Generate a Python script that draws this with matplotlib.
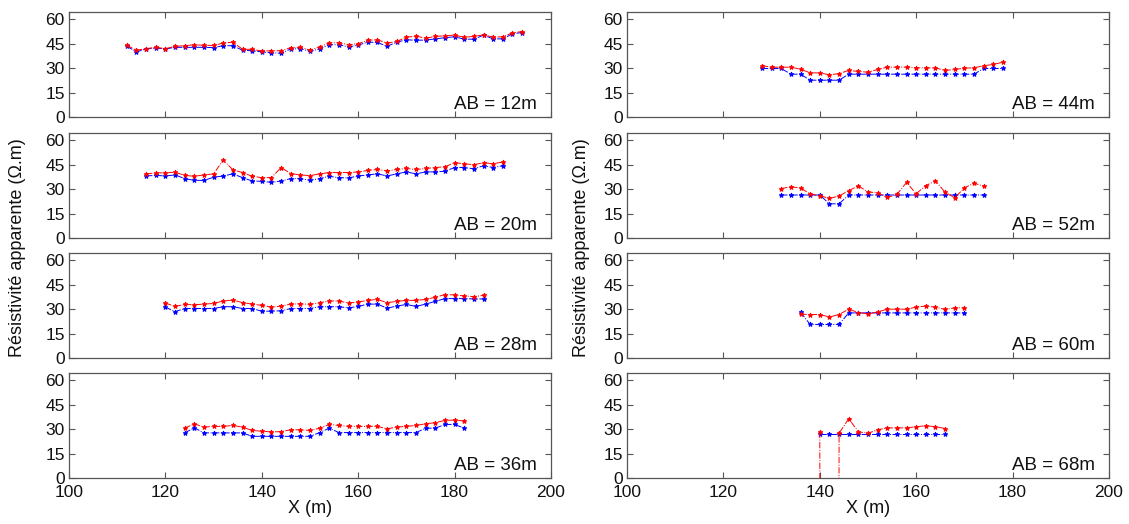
import matplotlib
matplotlib.use("Agg")
import matplotlib.pyplot as plt
import numpy as np

plt.rcParams['font.family'] = ['Liberation Sans', 'DejaVu Sans']

labels = ["AB = 12m", "AB = 20m", "AB = 28m", "AB = 36m",
          "AB = 44m", "AB = 52m", "AB = 60m", "AB = 68m"]

x12 = list(range(112, 196, 2))
red12 = [44.0, 41.0, 42.0, 42.8, 42.0, 43.4, 43.8, 44.4, 44.0, 44.0, 45.4, 46.0,
         41.6, 41.6, 40.5, 40.7, 40.7, 42.6, 42.8, 41.1, 43.0, 45.6, 45.6, 44.4,
         45.0, 47.2, 47.4, 45.4, 46.4, 49.0, 49.7, 48.4, 49.5, 49.9, 50.3, 49.0,
         49.5, 50.5, 49.0, 49.3, 51.7, 52.5]
blue12 = [43.5, 40.0, 41.8, 42.4, 41.8, 42.8, 42.8, 42.8, 42.8, 42.6, 43.8, 43.8,
          41.0, 40.7, 40.0, 39.5, 39.1, 41.8, 42.0, 40.3, 41.8, 44.4, 44.4, 43.0,
          44.2, 46.0, 45.8, 43.4, 46.0, 47.4, 47.2, 47.2, 48.0, 48.7, 49.3, 47.8,
          47.8, 50.3, 48.0, 48.0, 51.1, 51.9]

x20 = list(range(116, 192, 2))
red20 = [39.4, 40.0, 40.0, 40.4, 38.5, 37.9, 38.75, 39.4, 47.9, 41.9, 40.2, 37.9,
         37.1, 37.1, 43.3, 39.6, 38.75, 38.3, 39.4, 40.2, 40.2, 40.2, 40.6, 41.5,
         42.1, 41.25, 42.1, 42.7, 42.1, 42.7, 43.3, 43.75, 46.25, 45.6, 45.0, 46.25,
         45.6, 46.7]
blue20 = [38.1, 38.5, 38.1, 38.75, 36.5, 35.4, 35.4, 37.3, 38.1, 39.4, 37.1, 35.0,
          34.8, 34.2, 35.0, 36.5, 36.5, 35.4, 36.5, 37.9, 37.1, 36.9, 38.1, 38.75,
          39.4, 38.1, 39.4, 40.6, 39.4, 40.6, 40.6, 41.0, 43.3, 43.3, 42.5, 44.4,
          43.3, 44.4]

x28 = list(range(120, 188, 2))
red28 = [33.75, 31.7, 32.9, 32.7, 33.1, 33.5, 35.0, 35.6, 34.0, 33.1, 32.3, 31.25,
         31.9, 33.1, 33.3, 32.9, 34.0, 35.0, 35.0, 33.75, 34.4, 35.4, 36.0, 34.0,
         34.8, 35.4, 35.4, 36.0, 37.3, 39.0, 38.75, 38.1, 37.7, 38.5]
blue28 = [31.25, 28.5, 30.4, 30.4, 30.4, 30.4, 31.5, 31.5, 30.4, 30.4, 28.75, 28.75,
          29.0, 30.4, 30.4, 30.4, 31.5, 31.5, 31.5, 30.8, 31.7, 33.1, 33.1, 30.6,
          31.9, 32.9, 31.7, 33.1, 34.8, 36.5, 36.5, 36.5, 36.25, 36.25]

x36 = list(range(124, 184, 2))
red36 = [30.6, 33.3, 31.25, 31.7, 31.7, 32.3, 31.25, 29.2, 28.75, 28.3, 28.5, 29.6,
         29.6, 29.2, 30.6, 32.9, 32.3, 31.7, 31.7, 31.7, 31.7, 30.2, 31.25, 31.7,
         32.3, 33.3, 34.0, 35.4, 35.6, 35.0]
blue36 = [27.7, 30.8, 27.7, 27.7, 27.7, 27.7, 27.7, 25.6, 25.6, 25.6, 25.6, 25.6,
          25.6, 25.6, 27.9, 30.6, 27.9, 27.9, 27.9, 27.9, 27.9, 27.9, 27.9, 27.9,
          27.9, 30.6, 30.6, 32.9, 32.9, 30.6]

x44 = list(range(128, 180, 2))
red44 = [31.5, 30.6, 30.6, 30.6, 29.4, 27.1, 27.1, 25.9, 26.7, 28.6, 28.0, 27.5,
         29.2, 30.6, 30.6, 30.6, 30.2, 30.2, 30.2, 28.6, 29.2, 30.0, 30.2, 31.5,
         32.3, 33.7]
blue44 = [29.8, 29.8, 29.8, 26.3, 26.3, 22.6, 22.6, 22.6, 22.6, 26.3, 26.3, 26.3,
          26.3, 26.3, 26.3, 26.3, 26.3, 26.3, 26.3, 26.3, 26.3, 26.3, 26.3, 29.8,
          29.8, 29.8]

x52 = list(range(132, 176, 2))
red52 = [30.4, 31.4, 30.8, 27.0, 26.0, 24.3, 25.8, 29.1, 32.0, 28.3, 27.7, 24.9,
         26.8, 34.1, 27.2, 32.2, 35.1, 28.1, 24.7, 30.8, 33.7, 31.8]
blue52 = [26.4, 26.4, 26.4, 26.4, 26.4, 21.0, 21.0, 26.4, 26.4, 26.4, 26.4, 26.4,
          26.4, 26.4, 26.4, 26.4, 26.4, 26.4, 26.4, 26.4, 26.4, 26.4]

x60 = list(range(136, 172, 2))
red60 = [26.9, 26.7, 26.7, 25.2, 26.7, 30.0, 27.9, 27.1, 28.3, 30.0, 30.0, 30.0,
         31.25, 31.9, 31.25, 29.8, 30.8, 30.8]
blue60 = [28.1, 20.6, 20.6, 20.6, 20.6, 27.7, 27.7, 27.7, 27.7, 27.7, 27.7, 27.7,
          27.7, 27.7, 27.7, 27.7, 27.7, 27.7]

x68 = list(range(140, 168, 2))
red68 = [28.4, -5000.0, 27.5, 36.4, 28.4, 27.5, 29.6, 30.8, 30.8, 30.8, 31.5, 32.1,
         31.5, 30.4]
blue68 = [27.3, 27.3, 27.3, 27.3, 27.3, 27.3, 27.3, 27.3, 27.3, 27.3, 27.3, 27.3,
          27.3, 27.3]

xs = [x12, x20, x28, x36, x44, x52, x60, x68]
reds = [red12, red20, red28, red36, red44, red52, red60, red68]
blues = [blue12, blue20, blue28, blue36, blue44, blue52, blue60, blue68]

W, H = 1129, 524
fig = plt.figure(figsize=(W / 100, H / 100), dpi=100)

col_left = [69, 627]
ax_w = 482
row_top = [12, 133, 253, 373]
ax_h = 105
spine_col = '#555555'

for i in range(8):
    col = i // 4
    row = i % 4
    l = col_left[col] / W
    b = 1 - (row_top[row] + ax_h) / H
    ax = fig.add_axes([l, b, ax_w / W, ax_h / H])
    ax.plot(xs[i], blues[i], color='#0000ff', linestyle='-.', linewidth=0.7,
            marker='*', markersize=3.5, markeredgewidth=0.7)
    ax.plot(xs[i], reds[i], color='#ff0000', linestyle='-.', linewidth=0.7,
            marker='*', markersize=3.5, markeredgewidth=0.7)
    ax.set_xlim(100, 200)
    ax.set_ylim(0, 64.5)
    ax.set_yticks([0, 15, 30, 45, 60])
    ax.set_xticks([100, 120, 140, 160, 180, 200])
    ax.tick_params(direction='in', top=True, right=True, length=4,
                   labelsize=12.5, colors=spine_col, labelcolor='#111111', pad=3)
    ax.tick_params(axis='x', pad=5)
    for s in ax.spines.values():
        s.set_color(spine_col)
        s.set_linewidth(0.9)
    if row < 3:
        ax.set_xticklabels([])
    else:
        ax.set_xlabel("X (m)", fontsize=13, labelpad=0, color='#111111')
    ax.text(0.97, 0.04, labels[i], transform=ax.transAxes, ha='right', va='bottom',
            fontsize=13.5, color='#111111')

fig.text(18 / W, 1 - 248 / H, "Résistivité apparente (Ω.m)", rotation=90,
         ha='center', va='center', fontsize=13, color='#111111')
fig.text(582 / W, 1 - 248 / H, "Résistivité apparente (Ω.m)", rotation=90,
         ha='center', va='center', fontsize=13, color='#111111')

fig.savefig("out.png", dpi=100)
